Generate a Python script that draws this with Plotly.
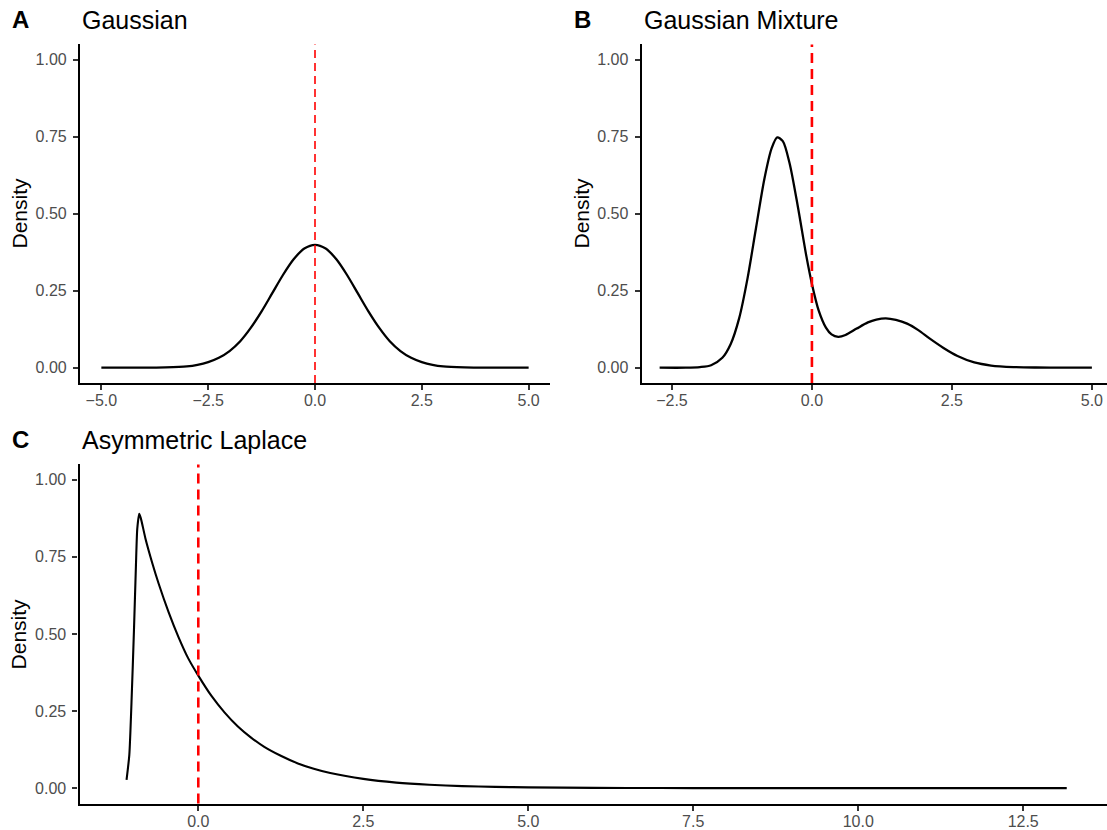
import plotly.graph_objects as go

W, H = 1107, 830
FONT = "Liberation Sans, Arial, sans-serif"

# ---------------- data ----------------
gauss_x = [-5.0, -4.5, -4.0, -3.5, -3.0, -2.75, -2.5, -2.25, -2.0, -1.75, -1.5, -1.25,
           -1.0, -0.75, -0.5, -0.25, 0.0, 0.25, 0.5, 0.75, 1.0, 1.25, 1.5, 1.75, 2.0,
           2.25, 2.5, 2.75, 3.0, 3.5, 4.0, 4.5, 5.0]
gauss_y = [0.000, 0.000, 0.000, 0.001, 0.004, 0.009, 0.018, 0.032, 0.054, 0.086, 0.130, 0.183,
           0.242, 0.301, 0.352, 0.387, 0.399, 0.387, 0.352, 0.301, 0.242, 0.183, 0.130, 0.086, 0.054,
           0.032, 0.018, 0.009, 0.004, 0.001, 0.000, 0.000, 0.000]

mix_x = [-2.72, -2.25, -2.0, -1.8, -1.6, -1.45, -1.3, -1.15, -1.0, -0.85, -0.72, -0.62,
         -0.52, -0.4, -0.25, -0.1, 0.0, 0.12, 0.25, 0.35, 0.47, 0.6, 0.8, 1.0, 1.15, 1.32,
         1.5, 1.7, 1.9, 2.1, 2.35, 2.6, 2.9, 3.2, 3.6, 4.0, 4.5, 5.0]
mix_y = [0.000, 0.000, 0.002, 0.008, 0.032, 0.077, 0.160, 0.290, 0.452, 0.612, 0.712, 0.748,
         0.736, 0.665, 0.522, 0.363, 0.272, 0.186, 0.130, 0.108, 0.100, 0.106, 0.127, 0.147, 0.156, 0.160,
         0.155, 0.143, 0.122, 0.095, 0.064, 0.038, 0.017, 0.007, 0.002, 0.0005, 0.000, 0.000]

alap_x = [-1.087, -1.045, -1.01, -0.975, -0.945, -0.925, -0.895, -0.87, -0.8, -0.7, -0.6,
          -0.45, -0.3, -0.15, 0.0, 0.2, 0.4, 0.6, 0.8, 1.0, 1.25, 1.5, 1.75, 2.0, 2.5, 3.0,
          3.5, 4.0, 4.5, 5.0, 6.0, 7.0, 8.0, 9.0, 10.0, 11.0, 12.0, 13.16]
alap_y = [0.027, 0.108, 0.290, 0.510, 0.720, 0.840, 0.890, 0.875, 0.809, 0.732, 0.663,
          0.571, 0.490, 0.420, 0.365, 0.299, 0.245, 0.200, 0.164, 0.134, 0.105, 0.081, 0.063, 0.049, 0.030, 0.018,
          0.011, 0.0067, 0.0041, 0.0025, 0.0009, 0.0003, 0.0001, 0.0, 0.0, 0.0, 0.0, 0.0]

ref_x = 0.0

y_tickvals = [0.0, 0.25, 0.5, 0.75, 1.0]
y_ticktext = ["0.00", "0.25", "0.50", "0.75", "1.00"]
a_tickvals = [-5.0, -2.5, 0.0, 2.5, 5.0]
a_ticktext = ["\u22125.0", "\u22122.5", "0.0", "2.5", "5.0"]
b_tickvals = [-2.5, 0.0, 2.5, 5.0]
b_ticktext = ["\u22122.5", "0.0", "2.5", "5.0"]
c_tickvals = [0.0, 2.5, 5.0, 7.5, 10.0, 12.5]
c_ticktext = ["0.0", "2.5", "5.0", "7.5", "10.0", "12.5"]

tags = ["A", "B", "C"]
titles = ["Gaussian", "Gaussian Mixture", "Asymmetric Laplace"]
y_title = "Density"

# ---------------- layout helpers ----------------
def fx(px):
    return px / W

def fy(py):
    return 1 - py / H

axis_common = dict(
    showline=True, linecolor="black", linewidth=2.2,
    ticks="outside", ticklen=5, tickwidth=2, tickcolor="#333333",
    tickfont=dict(family=FONT, size=16, color="#4D4D4D"),
    showgrid=False, zeroline=False, fixedrange=True,
)
x_axis = dict(axis_common, ticklabelstandoff=-3)
y_axis = dict(axis_common, ticklabelstandoff=3)

fig = go.Figure()

fig.add_trace(go.Scatter(x=gauss_x, y=gauss_y, mode="lines", xaxis="x", yaxis="y",
                         line=dict(color="black", width=2.3, shape="spline", smoothing=0.8)))
fig.add_trace(go.Scatter(x=mix_x, y=mix_y, mode="lines", xaxis="x2", yaxis="y2",
                         line=dict(color="black", width=2.3, shape="spline", smoothing=0.8)))
fig.add_trace(go.Scatter(x=alap_x, y=alap_y, mode="lines", xaxis="x3", yaxis="y3",
                         line=dict(color="black", width=2.1, shape="spline", smoothing=0.6)))

top_dom = [fy(384), fy(44.5)]
bot_dom = [fy(805.5), fy(465.5)]

fig.update_layout(
    width=W, height=H,
    margin=dict(l=0, r=0, t=0, b=0),
    paper_bgcolor="white", plot_bgcolor="white",
    showlegend=False,
    font=dict(family=FONT),
    xaxis=dict(domain=[fx(80), fx(550)], range=[-5.5, 5.5], anchor="y",
               tickvals=a_tickvals, ticktext=a_ticktext, **x_axis),
    yaxis=dict(domain=top_dom, range=[-0.05, 1.05], anchor="x",
               tickvals=y_tickvals, ticktext=y_ticktext, **y_axis),
    xaxis2=dict(domain=[fx(641.7), 1.0], range=[-3.04, 5.27], anchor="y2",
                tickvals=b_tickvals, ticktext=b_ticktext, **x_axis),
    yaxis2=dict(domain=top_dom, range=[-0.05, 1.05], anchor="x2",
                tickvals=y_tickvals, ticktext=y_ticktext, **y_axis),
    xaxis3=dict(domain=[fx(79.5), 1.0], range=[-1.8, 13.77], anchor="y3",
                tickvals=c_tickvals, ticktext=c_ticktext, **x_axis),
    yaxis3=dict(domain=bot_dom, range=[-0.05, 1.05], anchor="x3",
                tickvals=y_tickvals, ticktext=y_ticktext, **y_axis),
)

# red dashed reference lines at x = ref_x
for xr, w, d in (("x", 1.6, "8px,5px"), ("x2", 2.6, "10px,6px"), ("x3", 2.6, "10px,6px")):
    yr = "y" if xr == "x" else "y" + xr[1:]
    fig.add_shape(type="line", xref=xr, yref=yr + " domain", x0=ref_x, x1=ref_x, y0=0, y1=1,
                  line=dict(color="#FF0000", width=w, dash=d), layer="above")

# tags, titles, y-axis titles
tag_pos = [(10, 20), (572, 20), (10, 441)]
title_pos = [(80, 20), (642, 20), (80, 441)]
ytitle_pos = [(19, 214), (581, 214), (18.5, 635.5)]
for t, (tx, ty) in zip(tags, tag_pos):
    fig.add_annotation(text="<b>" + t + "</b>", x=fx(tx), y=fy(ty), xref="paper", yref="paper",
                       xanchor="left", yanchor="middle", showarrow=False,
                       font=dict(family=FONT, size=24, color="black"))
for t, (tx, ty) in zip(titles, title_pos):
    fig.add_annotation(text=t, x=fx(tx), y=fy(ty), xref="paper", yref="paper",
                       xanchor="left", yanchor="middle", showarrow=False,
                       font=dict(family=FONT, size=25, color="black"))
for (tx, ty) in ytitle_pos:
    fig.add_annotation(text=y_title, x=fx(tx), y=fy(ty), xref="paper", yref="paper",
                       xanchor="center", yanchor="middle", showarrow=False, textangle=-90,
                       font=dict(family=FONT, size=21, color="black"))

fig.write_html("out.html")
